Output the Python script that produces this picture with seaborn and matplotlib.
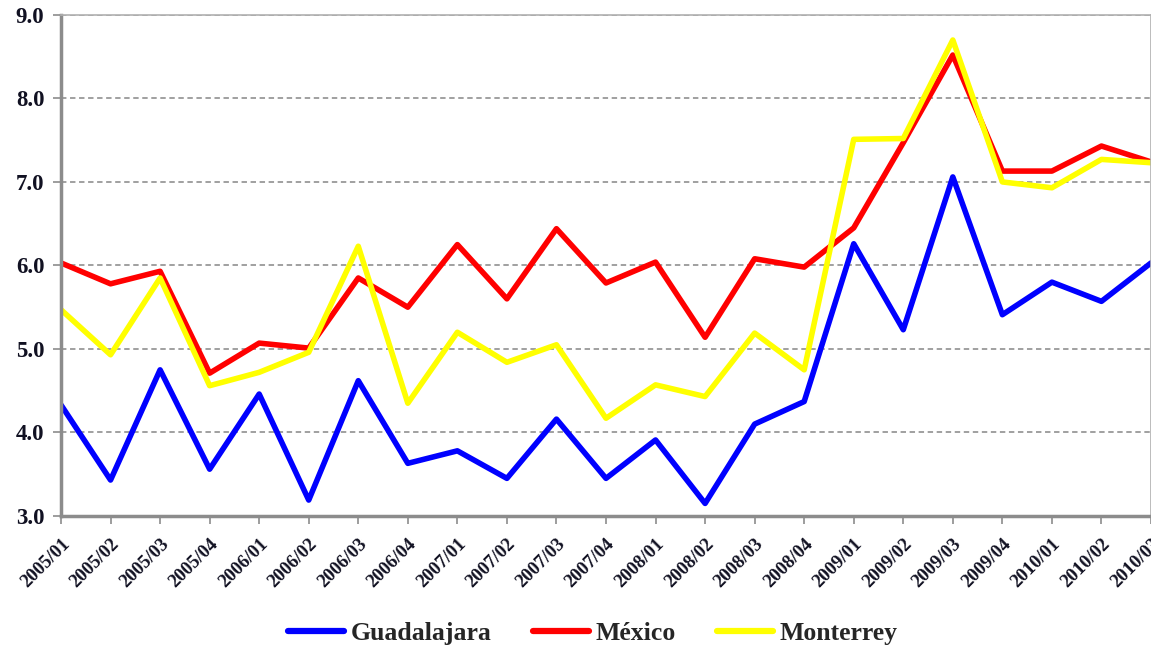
import matplotlib
matplotlib.use("Agg")
import matplotlib.pyplot as plt
import seaborn as sns
import pandas as pd
from matplotlib.lines import Line2D

periods = ["2005/01", "2005/02", "2005/03", "2005/04", "2006/01", "2006/02", "2006/03", "2006/04",
           "2007/01", "2007/02", "2007/03", "2007/04", "2008/01", "2008/02", "2008/03", "2008/04",
           "2009/01", "2009/02", "2009/03", "2009/04", "2010/01", "2010/02", "2010/03"]

guadalajara = [4.33, 3.43, 4.75, 3.56, 4.46, 3.19, 4.62, 3.63, 3.78, 3.45, 4.16, 3.45,
               3.91, 3.15, 4.10, 4.37, 6.26, 5.23, 7.06, 5.41, 5.80, 5.57, 6.03]
mexico = [6.03, 5.78, 5.93, 4.71, 5.07, 5.01, 5.85, 5.50, 6.25, 5.60, 6.44, 5.79,
          6.04, 5.14, 6.08, 5.98, 6.45, 7.47, 8.52, 7.13, 7.13, 7.43, 7.24]
monterrey = [5.47, 4.93, 5.85, 4.56, 4.72, 4.96, 6.23, 4.35, 5.20, 4.84, 5.05, 4.17,
             4.57, 4.43, 5.19, 4.75, 7.51, 7.52, 8.70, 7.00, 6.93, 7.27, 7.23]

series_names = ["Guadalajara", "México", "Monterrey"]
colors = ["#0000FF", "#FF0000", "#FFFF00"]

df = pd.DataFrame({
    "idx": list(range(len(periods))) * 3,
    "value": guadalajara + mexico + monterrey,
    "city": sum([[n] * len(periods) for n in series_names], []),
})

sns.set_theme(style="white")
plt.rcParams["font.family"] = ["Liberation Serif", "DejaVu Serif"]

fig = plt.figure(figsize=(11.51, 6.49), dpi=100)
ax = fig.add_axes([0.053, 0.205, 0.947, 0.772])

sns.lineplot(data=df, x="idx", y="value", hue="city", hue_order=series_names,
             palette=dict(zip(series_names, colors)), linewidth=4.0, ax=ax, legend=False)

ax.set_xlim(0, len(periods) - 1)
ax.set_ylim(3.0, 9.0)
yt = [3, 4, 5, 6, 7, 8, 9]
ax.set_yticks(yt)
ax.set_yticklabels([f"{v:.1f}" for v in yt], fontsize=16.5, fontweight="bold", color="#111122")
ax.set_xticks(range(len(periods)))
ax.set_xticklabels(periods, rotation=45, ha="right", rotation_mode="anchor",
                   fontsize=13.5, fontweight="bold", color="#111122")
ax.set_xlabel("")
ax.set_ylabel("")

ax.yaxis.grid(True, linestyle=(0, (3, 2)), color="#999999", linewidth=1.3)
ax.xaxis.grid(False)
ax.set_axisbelow(True)

for side in ["left", "bottom"]:
    ax.spines[side].set_color("#8c8c8c")
    ax.spines[side].set_linewidth(2.5)
for side in ["top", "right"]:
    ax.spines[side].set_color("#b0b0b0")
    ax.spines[side].set_linewidth(1.2)

ax.tick_params(axis="both", which="major", direction="out", length=6, width=1.2,
               color="#8c8c8c", left=True, bottom=True)
ax.tick_params(axis="y", pad=6)
ax.tick_params(axis="x", pad=8)

handles = [Line2D([0], [0], color=c, linewidth=4.5) for c in colors]
fig.legend(handles, series_names, loc="center", bbox_to_anchor=(0.515, 0.024), ncol=3,
           frameon=False, prop={"family": "Liberation Serif", "weight": "bold", "size": 18.5},
           handlelength=2.2, handletextpad=0.25, columnspacing=1.6)

fig.savefig("out.png", dpi=100)
